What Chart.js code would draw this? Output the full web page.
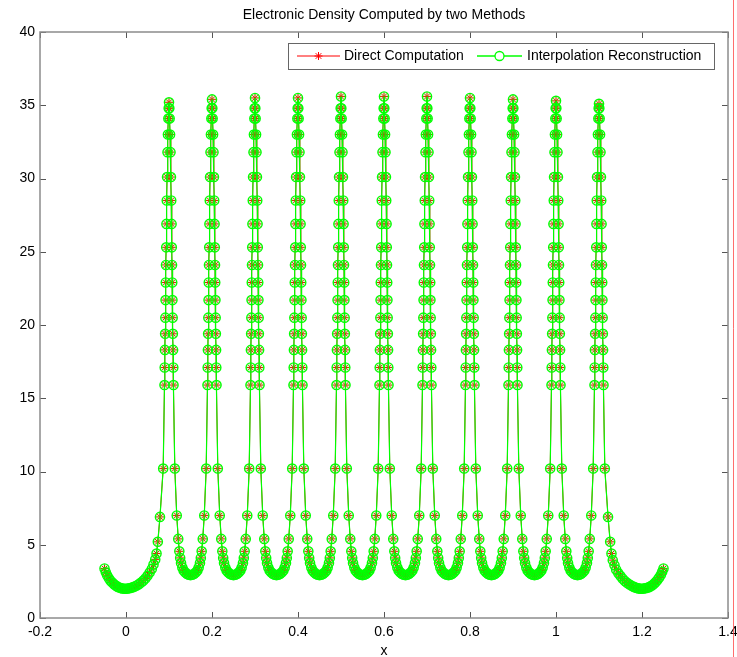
<!DOCTYPE html>
<html>
<head>
<meta charset="utf-8">
<script src="https://cdn.jsdelivr.net/npm/chart.js@4.4.1/dist/chart.umd.min.js"></script>
<style>
  html, body { margin: 0; padding: 0; background: #fff; }
  #wrap { width: 737px; height: 657px; }
</style>
</head>
<body>
<div id="wrap"><canvas id="chart" width="737" height="657"></canvas></div>
<script>
// =======================
// Datos
const chartTitle = "Electronic Density Computed by two Methods";
const xTitle = "x";
const seriesNames = ["Direct Computation", "Interpolation Reconstruction"];

const xTickValues = [-0.2, 0, 0.2, 0.4, 0.6, 0.8, 1, 1.2, 1.4];
const xTickLabels = ["-0.2", "0", "0.2", "0.4", "0.6", "0.8", "1", "1.2", "1.4"];
const yTickValues = [0, 5, 10, 15, 20, 25, 30, 35, 40];
const yTickLabels = ["0", "5", "10", "15", "20", "25", "30", "35", "40"];

// centros de los picos y altura máxima de cada uno
const peakCenters = [0.1, 0.2, 0.3, 0.4, 0.5, 0.6, 0.7, 0.8, 0.9, 1.0, 1.1];
const peakTops = [35.2, 35.4, 35.5, 35.5, 35.6, 35.6, 35.6, 35.5, 35.4, 35.3, 35.1];

// flanco de un pico: distancia al centro y densidad (del valle hacia la cima)
const flankDx = [0.05, 0.046, 0.042, 0.038, 0.034, 0.031, 0.028, 0.026, 0.024, 0.0215,
  0.018, 0.0135, 0.0105, 0.01, 0.0095, 0.009, 0.0085, 0.008, 0.0075, 0.007,
  0.0065, 0.006, 0.0052, 0.0045, 0.0035, 0.0025, 0.0015, 0.0008];
const flankY = [2.93, 2.95, 3.0, 3.1, 3.25, 3.45, 3.75, 4.1, 4.55, 5.4,
  7.0, 10.2, 15.9, 17.1, 18.3, 19.4, 20.5, 21.7, 22.9, 24.1,
  25.3, 26.9, 28.5, 30.1, 31.8, 33.0, 34.1, 34.8];

// colas en los extremos
const leftTailX = [-0.05, -0.047, -0.044, -0.04, -0.036, -0.032, -0.028, -0.024, -0.02, -0.016,
  -0.012, -0.008, -0.004, 0, 0.004, 0.008, 0.012, 0.016, 0.02, 0.025,
  0.03, 0.035, 0.04, 0.045, 0.05, 0.055, 0.06, 0.064, 0.068, 0.071, 0.074, 0.079];
const leftTailY = [3.38, 3.12, 2.92, 2.72, 2.55, 2.42, 2.31, 2.22, 2.14, 2.08,
  2.04, 2.01, 2.0, 2.0, 2.01, 2.03, 2.06, 2.1, 2.15, 2.22,
  2.31, 2.42, 2.55, 2.7, 2.88, 3.1, 3.35, 3.65, 4.0, 4.4, 5.2, 6.9];
const rightTailX = [1.121, 1.126, 1.129, 1.132, 1.136, 1.14, 1.145, 1.15, 1.155, 1.16,
  1.165, 1.17, 1.175, 1.18, 1.184, 1.188, 1.192, 1.196, 1.2, 1.204,
  1.208, 1.212, 1.216, 1.22, 1.224, 1.228, 1.232, 1.236, 1.24, 1.244, 1.247, 1.25];
const rightTailY = [6.9, 5.2, 4.4, 3.95, 3.6, 3.3, 3.05, 2.86, 2.68, 2.53,
  2.41, 2.3, 2.21, 2.14, 2.09, 2.05, 2.02, 2.0, 2.0, 2.01,
  2.03, 2.06, 2.1, 2.16, 2.24, 2.34, 2.46, 2.6, 2.76, 2.95, 3.15, 3.38];

// =======================
// Armar la serie (los dos métodos coinciden)
const points = [];
leftTailX.forEach((x, i) => points.push({ x, y: leftTailY[i] }));
peakCenters.forEach((c, k) => {
  const first = k === 0;
  const last = k === peakCenters.length - 1;
  for (let i = 0; i < flankDx.length; i++) {
    if (first && flankDx[i] > 0.015) continue;
    points.push({ x: c - flankDx[i], y: flankY[i] });
  }
  points.push({ x: c, y: peakTops[k] });
  for (let i = flankDx.length - 1; i >= 0; i--) {
    if (last && flankDx[i] > 0.015) continue;
    if (i === 0) continue; // el punto medio del valle lo pone el pico siguiente
    points.push({ x: c + flankDx[i], y: flankY[i] });
  }
});
rightTailX.forEach((x, i) => points.push({ x, y: rightTailY[i] }));

const RED = "#ff0000";
const GREEN = "#00ff00";
const FONT = "'Liberation Sans', Arial, Helvetica, sans-serif";

// =======================
// Marco, ticks hacia adentro, título y leyenda
const matlabAxes = {
  id: "matlabAxes",
  afterDatasetsDraw(chart) {
    const { ctx, chartArea: a, scales } = chart;
    ctx.save();
    // ticks
    ctx.strokeStyle = "#555";
    ctx.lineWidth = 1;
    ctx.beginPath();
    xTickValues.forEach((v) => {
      const px = Math.round(scales.x.getPixelForValue(v)) + 0.5;
      ctx.moveTo(px, a.bottom); ctx.lineTo(px, a.bottom - 6);
      ctx.moveTo(px, a.top); ctx.lineTo(px, a.top + 6);
    });
    yTickValues.forEach((v) => {
      const py = Math.round(scales.y.getPixelForValue(v)) + 0.5;
      ctx.moveTo(a.left, py); ctx.lineTo(a.left + 6, py);
      ctx.moveTo(a.right, py); ctx.lineTo(a.right - 6, py);
    });
    ctx.stroke();
    // marco
    ctx.strokeStyle = "#8c8c8c";
    ctx.lineWidth = 1.5;
    ctx.strokeRect(a.left, a.top, a.right - a.left, a.bottom - a.top);

    // título y etiqueta del eje
    ctx.fillStyle = "#000";
    ctx.font = "14px " + FONT;
    ctx.textAlign = "center";
    ctx.textBaseline = "middle";
    ctx.fillText(chartTitle, (a.left + a.right) / 2, 15);
    ctx.fillText(xTitle, (a.left + a.right) / 2, 651);

    // leyenda
    const lx = 288, ly = 43, lw = 426, lh = 26, cy = ly + lh / 2;
    ctx.fillStyle = "#fff";
    ctx.fillRect(lx, ly, lw, lh);
    ctx.strokeStyle = "#666";
    ctx.lineWidth = 1;
    ctx.strokeRect(lx + 0.5, ly + 0.5, lw, lh);
    // muestra roja
    ctx.strokeStyle = RED;
    ctx.beginPath();
    ctx.moveTo(297, cy); ctx.lineTo(340, cy);
    ctx.stroke();
    Chart.helpers.drawPoint(ctx, { pointStyle: "star", radius: 4, rotation: 0, borderWidth: 1 }, 318.5, cy);
    // muestra verde
    ctx.strokeStyle = GREEN;
    ctx.lineWidth = 1.3;
    ctx.beginPath();
    ctx.moveTo(477, cy); ctx.lineTo(522, cy);
    ctx.stroke();
    ctx.fillStyle = "#fff";
    ctx.beginPath();
    ctx.arc(499.5, cy, 4.5, 0, Math.PI * 2);
    ctx.fill();
    ctx.stroke();
    ctx.fillStyle = "#000";
    ctx.textAlign = "left";
    ctx.fillText(seriesNames[0], 344, cy + 0.5);
    ctx.fillText(seriesNames[1], 527, cy + 0.5);

    // línea roja del borde de la captura
    ctx.strokeStyle = "rgba(255,60,60,0.75)";
    ctx.lineWidth = 1;
    ctx.beginPath();
    ctx.moveTo(733.5, 0); ctx.lineTo(733.5, 657);
    ctx.stroke();
    ctx.restore();
  },
};

// =======================
// Gráfico
new Chart(document.getElementById("chart"), {
  type: "line",
  data: {
    datasets: [
      {
        label: seriesNames[0],
        data: points,
        borderColor: RED,
        borderWidth: 1,
        pointStyle: "star",
        pointRadius: 4,
        pointBorderColor: RED,
        pointBorderWidth: 1,
        pointBackgroundColor: RED,
        tension: 0,
        order: 2,
      },
      {
        label: seriesNames[1],
        data: points,
        borderColor: GREEN,
        borderWidth: 1.2,
        pointStyle: "circle",
        pointRadius: 4.6,
        pointBorderColor: GREEN,
        pointBorderWidth: 1.4,
        pointBackgroundColor: "rgba(0,255,0,0.16)",
        tension: 0,
        order: 1,
      },
    ],
  },
  options: {
    responsive: false,
    animation: false,
    devicePixelRatio: 1,
    layout: { padding: { left: 0, right: 9, top: 32, bottom: 0 } },
    plugins: {
      legend: { display: false },
      title: { display: false },
      tooltip: { enabled: false },
    },
    scales: {
      x: {
        type: "linear",
        min: -0.2,
        max: 1.4,
        grid: { display: false, drawTicks: false },
        border: { display: false },
        afterBuildTicks: (s) => { s.ticks = xTickValues.map((v) => ({ value: v })); },
        afterFit: (s) => { s.height = 39; s.paddingLeft = 0; s.paddingRight = 0; },
        ticks: {
          padding: 6,
          color: "#000",
          font: { family: FONT, size: 14 },
          maxRotation: 0,
          callback: (v, i) => xTickLabels[i],
        },
      },
      y: {
        min: 0,
        max: 40,
        grid: { display: false, drawTicks: false },
        border: { display: false },
        afterBuildTicks: (s) => { s.ticks = yTickValues.map((v) => ({ value: v })); },
        afterFit: (s) => { s.width = 40; s.paddingTop = 0; s.paddingBottom = 0; },
        ticks: {
          padding: 5,
          color: "#000",
          font: { family: FONT, size: 14 },
          callback: (v, i) => yTickLabels[i],
        },
      },
    },
  },
  plugins: [matlabAxes],
});
</script>
</body>
</html>
